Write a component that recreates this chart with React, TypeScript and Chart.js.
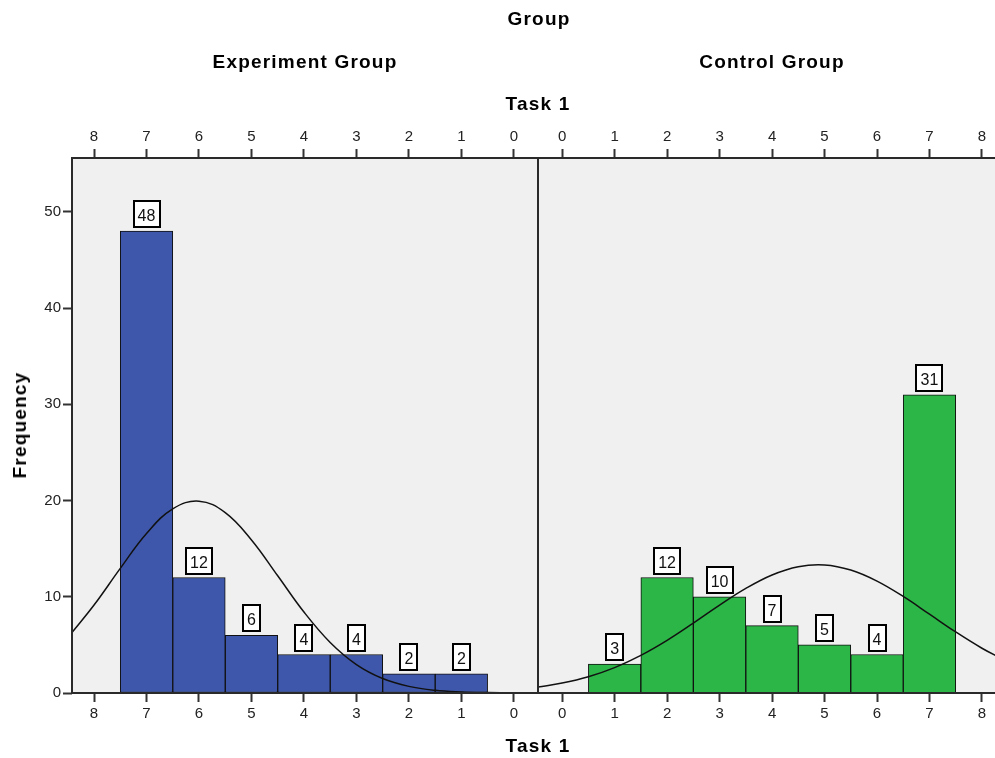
import React, { useEffect, useRef } from 'react';
import { Chart, registerables } from 'chart.js';

Chart.register(...registerables);

// ---------- data ----------
const binValues = [1, 2, 3, 4, 5, 6, 7];
const experimentCounts = [2, 2, 4, 4, 6, 12, 48];
const controlCounts = [3, 12, 10, 7, 5, 4, 31];
const axisTicks = [0, 1, 2, 3, 4, 5, 6, 7, 8];
const freqTicks = [0, 10, 20, 30, 40, 50];

// normal-curve heights at half-unit steps
const curveX = [-0.46, 0, 0.5, 1, 1.5, 2, 2.5, 3, 3.5, 4, 4.5, 5, 5.5, 6, 6.5, 7, 7.5, 8, 8.42];
const experimentCurve = [0, 0.01, 0.04, 0.11, 0.28, 0.69, 1.5, 2.95, 5.25, 8.41, 12.18, 15.91, 18.75, 19.94, 19.14, 16.58, 12.95, 9.14, 6.29];
const controlCurve = [0.62, 1.03, 1.69, 2.64, 3.91, 5.47, 7.26, 9.13, 10.87, 12.27, 13.13, 13.31, 12.78, 11.63, 10.03, 8.19, 6.34, 4.65, 3.44];

const X_MIN = -0.46;
const X_MAX = 8.42;
const Y_MAX = 55.6;

const FONT = '"Liberation Sans", Arial, Helvetica, sans-serif';

type PanelProps = {
  left: number;
  width: number;
  counts: number[];
  curve: number[];
  color: string;
  reverse: boolean;
  showY: boolean;
  padLeft: number;
  padRight: number;
};

function Panel({ left, width, counts, curve, color, reverse, showY, padLeft, padRight }: PanelProps) {
  const ref = useRef<HTMLCanvasElement>(null);

  useEffect(() => {
    const canvas = ref.current!;
    const tickFont = { family: FONT, size: 15 };
    const gridOpts = {
      display: true,
      drawOnChartArea: false,
      drawTicks: true,
      tickLength: 9,
      tickWidth: 2,
      tickColor: '#333',
      offset: false,
    };
    const xAxis = (position: 'top' | 'bottom', h: number) => ({
      type: 'linear',
      axis: 'x',
      position,
      min: X_MIN,
      max: X_MAX,
      reverse,
      offset: false,
      afterBuildTicks: (s: any) => {
        s.ticks = axisTicks.map((v) => ({ value: v }));
      },
      afterFit: (s: any) => {
        s.height = h;
      },
      grid: gridOpts,
      border: { display: false },
      ticks: {
        autoSkip: false,
        maxRotation: 0,
        minRotation: 0,
        padding: 3,
        color: '#222',
        font: tickFont,
        callback: (v: any) => String(v),
      },
    });

    const panelPlugin = {
      id: 'panelDecor',
      beforeDraw(chart: any) {
        const { ctx, chartArea: a } = chart;
        ctx.save();
        ctx.fillStyle = '#f0f0f0';
        ctx.fillRect(a.left, a.top, a.right - a.left, a.bottom - a.top);
        ctx.restore();
      },
      afterDatasetsDraw(chart: any) {
        const { ctx, chartArea: a } = chart;
        ctx.save();
        ctx.lineWidth = 2;
        ctx.strokeStyle = '#2a2a2a';
        ctx.strokeRect(a.left, a.top, a.right - a.left, a.bottom - a.top);

        const meta = chart.getDatasetMeta(1);
        ctx.font = `16px ${FONT}`;
        meta.data.forEach((el: any, i: number) => {
          const text = String(counts[i]);
          const tw = ctx.measureText(text).width;
          const w = Math.round(tw + 10);
          const h = 28;
          const x0 = Math.round(el.x - w / 2);
          const y0 = Math.round(el.y - 3 - h);
          ctx.fillStyle = '#ffffff';
          ctx.fillRect(x0, y0, w, h);
          ctx.lineWidth = 2;
          ctx.strokeStyle = '#000';
          ctx.strokeRect(x0 + 1, y0 + 1, w - 2, h - 2);
          ctx.fillStyle = '#111';
          ctx.textAlign = 'center';
          ctx.textBaseline = 'alphabetic';
          ctx.fillText(text, el.x, y0 + 20.5);
        });
        ctx.restore();
      },
    };

    const chart = new Chart(canvas, {
      type: 'bar',
      data: {
        datasets: [
          {
            type: 'line',
            data: curveX.map((x, i) => ({ x, y: curve[i] })),
            borderColor: '#111',
            borderWidth: 1.5,
            pointRadius: 0,
            tension: 0.4,
            fill: false,
            order: 0,
            xAxisID: 'x',
            yAxisID: 'y',
          } as any,
          {
            type: 'bar',
            data: binValues.map((x, i) => ({ x, y: counts[i] })),
            backgroundColor: color,
            borderColor: '#111',
            borderWidth: 1,
            borderSkipped: false,
            barPercentage: 1,
            categoryPercentage: 1,
            order: 1,
            xAxisID: 'x',
            yAxisID: 'y',
          } as any,
        ],
      },
      options: {
        responsive: false,
        animation: false,
        devicePixelRatio: 1,
        layout: { padding: { left: padLeft, right: padRight, top: 0, bottom: 0 } },
        plugins: { legend: { display: false }, tooltip: { enabled: false }, title: { display: false } },
        events: [],
        scales: {
          x: xAxis('bottom', 65),
          x2: xAxis('top', 158),
          y: {
            type: 'linear',
            display: showY,
            position: 'left',
            min: 0,
            max: Y_MAX,
            afterBuildTicks: (s: any) => {
              s.ticks = freqTicks.map((v) => ({ value: v }));
            },
            afterFit: (s: any) => {
              s.width = showY ? 72 : 0;
            },
            grid: gridOpts,
            border: { display: false },
            ticks: {
              padding: 2,
              color: '#222',
              font: tickFont,
              callback: (v: any) => String(v),
            },
          },
        } as any,
      },
      plugins: [panelPlugin],
    } as any);
    return () => chart.destroy();
  }, []);

  return (
    <canvas
      ref={ref}
      width={width}
      height={758}
      style={{ position: 'absolute', left, top: 0, width, height: 758 }}
    />
  );
}

const titleStyle: React.CSSProperties = {
  position: 'absolute',
  fontFamily: FONT,
  fontWeight: 700,
  fontSize: 19,
  lineHeight: '22px',
  letterSpacing: '1.2px',
  color: '#000',
  whiteSpace: 'nowrap',
  transform: 'translateX(-50%)',
};

export default function App() {
  return (
    <div
      style={{
        position: 'absolute',
        left: 0,
        top: 0,
        width: 995,
        height: 758,
        overflow: 'hidden',
        background: '#ffffff',
      }}
    >
      <Panel
        left={0}
        width={545}
        counts={experimentCounts}
        curve={experimentCurve}
        color="#3e57aa"
        reverse={true}
        showY={true}
        padLeft={0}
        padRight={7}
      />
      <Panel
        left={536}
        width={479}
        counts={controlCounts}
        curve={controlCurve}
        color="#2db648"
        reverse={false}
        showY={false}
        padLeft={2}
        padRight={11}
      />
      <div style={{ ...titleStyle, left: 539, top: 8 }}>Group</div>
      <div style={{ ...titleStyle, left: 305, top: 51 }}>Experiment Group</div>
      <div style={{ ...titleStyle, left: 772, top: 51 }}>Control Group</div>
      <div style={{ ...titleStyle, left: 538, top: 93 }}>Task 1</div>
      <div style={{ ...titleStyle, left: 538, top: 735 }}>Task 1</div>
      <div
        style={{
          ...titleStyle,
          left: 20,
          top: 425,
          transform: 'translate(-50%, -50%) rotate(-90deg)',
        }}
      >
        Frequency
      </div>
    </div>
  );
}
